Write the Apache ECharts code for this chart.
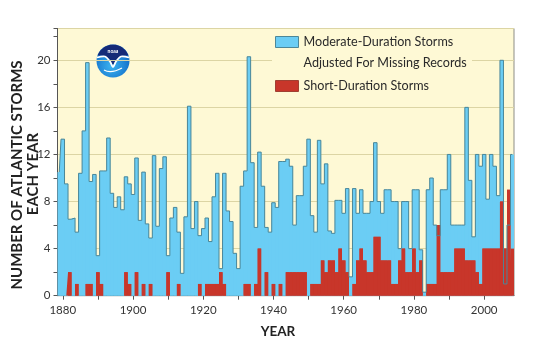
<!DOCTYPE html>
<html>
<head>
<meta charset="utf-8">
<script src="https://cdn.jsdelivr.net/npm/echarts/dist/echarts.min.js"></script>
<style>
html,body{margin:0;padding:0;background:#ffffff;}
#chart{width:536px;height:357px;}
</style>
</head>
<body>
<div id="chart"></div>
<script>
// ---- data ----
const years = [
  1879,1880,1881,1882,1883,1884,1885,1886,1887,1888,
  1889,1890,1891,1892,1893,1894,1895,1896,1897,1898,
  1899,1900,1901,1902,1903,1904,1905,1906,1907,1908,
  1909,1910,1911,1912,1913,1914,1915,1916,1917,1918,
  1919,1920,1921,1922,1923,1924,1925,1926,1927,1928,
  1929,1930,1931,1932,1933,1934,1935,1936,1937,1938,
  1939,1940,1941,1942,1943,1944,1945,1946,1947,1948,
  1949,1950,1951,1952,1953,1954,1955,1956,1957,1958,
  1959,1960,1961,1962,1963,1964,1965,1966,1967,1968,
  1969,1970,1971,1972,1973,1974,1975,1976,1977,1978,
  1979,1980,1981,1982,1983,1984,1985,1986,1987,1988,
  1989,1990,1991,1992,1993,1994,1995,1996,1997,1998,
  1999,2000,2001,2002,2003,2004,2005,2006,2007,2008
];
const moderateStorms = [
  10.5,13.3,9.5,6.5,6.6,5.4,10.4,14.0,19.8,9.7,
  10.3,3.4,10.6,10.6,13.4,8.7,7.5,8.4,7.3,10.1,
  9.5,8.6,11.7,6.4,10.5,6.1,4.9,11.9,5.9,10.8,
  11.8,3.4,6.6,7.5,5.4,1.9,6.7,16.1,5.7,8.0,
  5.1,5.7,6.6,4.6,8.4,10.4,2.3,10.4,7.2,6.3,
  3.6,2.3,9.3,10.6,20.3,11.3,5.8,12.2,9.3,5.8,
  5.4,7.9,7.5,11.4,11.4,11.6,11.0,6.0,8.5,8.5,
  11.0,13.3,6.8,5.4,13.2,9.5,11.2,5.5,5.3,8.1,
  8.1,7.0,9.1,1.6,9.1,7.0,9.0,7.0,7.0,8.0,
  13.0,8.0,7.0,9.0,9.0,8.0,8.0,4.0,8.0,8.0,
  4.0,9.0,9.0,3.9,0.3,9.0,10.0,6.0,5.1,9.0,
  9.0,12.0,6.0,6.0,6.0,6.0,16.0,9.8,5.0,12.0,
  11.0,12.0,8.2,12.0,11.0,8.5,20.0,1.0,6.0,12.0
];
const shortStorms = [
  0,0,0,2,0,1,0,0,1,1,
  0,2,1,0,0,0,0,0,0,2,
  1,0,2,0,1,0,1,0,0,0,
  0,2,0,0,1,0,0,0,0,0,
  1,0,1,1,1,1,2,1,0,0,
  0,0,0,1,1,0,1,4,0,2,
  0,1,0,1,0,2,2,2,2,2,
  2,0,1,1,1,3,2,3,3,2,
  4,3,2,0,1,3,4,3,2,2,
  5,5,3,3,3,1,1,3,4,2,
  2,4,2,3,0,1,1,1,6,2,
  2,2,2,4,4,4,3,3,3,2,
  1,4,4,4,4,4,8,4,9,4
];
const yTickLabels = [0, 4, 8, 12, 16, 20];
const xTickLabels = ['1880', '1900', '1920', '1940', '1960', '1980', '2000'];
const xMinorTicks = ['1890', '1910', '1930', '1950', '1970', '1990'];
const moderateName = 'Moderate-Duration Storms\nAdjusted For Missing Records';
const shortName = 'Short-Duration Storms';

// ---- style ----
const BG = '#fef9d5';
const BLUE = '#6bcdf4';
const BLUE_EDGE = '#4c8798';
const RED = '#c8362a';
const GRID_LINE = '#dcd5a4';
const FONT = 'Lato, "Open Sans", sans-serif';

const chart = echarts.init(document.getElementById('chart'), null, {renderer: 'canvas'});
const cats = years.map(String);

chart.setOption({
  animation: false,
  backgroundColor: '#ffffff',
  grid: {
    left: 57.5, right: 22, top: 28.5, bottom: 61.3,
    show: true, backgroundColor: BG, borderColor: '#8d8d86', borderWidth: 1,
    outerBoundsMode: 'none'
  },
  legend: {
    orient: 'vertical',
    left: 270, top: 5.5,
    padding: 5,
    itemGap: 2,
    itemWidth: 23,
    itemHeight: 11,
    selectedMode: false,
    formatter: function (name) { return name === moderateName ? '\n' + name : name; },
    textStyle: {fontFamily: FONT, fontSize: 12.6, color: '#2a2a2a', lineHeight: 21},
    data: [
      {name: moderateName, icon: 'rect',
       itemStyle: {color: BLUE, borderColor: BLUE_EDGE, borderWidth: 1}},
      {name: shortName, icon: 'rect',
       itemStyle: {color: RED, borderColor: '#8f2a1e', borderWidth: 0.8}}
    ]
  },
  xAxis: {
    type: 'category',
    data: cats,
    boundaryGap: true,
    axisLine: {show: true, lineStyle: {color: '#555', width: 1}},
    axisTick: {
      show: true, alignWithLabel: true, length: 4, inside: false,
      interval: function (i, v) { return xTickLabels.indexOf(v) >= 0 || xMinorTicks.indexOf(v) >= 0; },
      lineStyle: {color: '#555'}
    },
    axisLabel: {
      interval: function (i, v) { return xTickLabels.indexOf(v) >= 0; },
      fontFamily: FONT, fontSize: 11.5, color: '#333', margin: 9
    },
    splitLine: {show: false}
  },
  yAxis: [
    {
      type: 'value', min: 0, max: 22.7, interval: 2,
      axisLine: {show: true, lineStyle: {color: '#555', width: 1}},
      axisTick: {show: true, length: 4, lineStyle: {color: '#555'}},
      axisLabel: {
        fontFamily: FONT, fontSize: 11.5, color: '#333', margin: 7,
        formatter: function (v) { return yTickLabels.indexOf(v) >= 0 ? String(v) : ''; }
      },
      splitLine: {show: false}
    },
    {
      type: 'value', min: 0, max: 22.7, interval: 4, position: 'left',
      axisLine: {show: false}, axisTick: {show: false}, axisLabel: {show: false},
      splitLine: {show: true, lineStyle: {color: GRID_LINE, width: 1}}
    }
  ],
  series: [
    {
      name: 'moderateFill', type: 'line', step: 'middle', data: moderateStorms,
      symbol: 'none', lineStyle: {width: 0, opacity: 0},
      areaStyle: {color: BLUE, opacity: 1}, z: 2, silent: true
    },
    {
      name: moderateName, type: 'bar', data: moderateStorms,
      barCategoryGap: '0%', barGap: '-100%',
      itemStyle: {color: BLUE}, z: 3, silent: true
    },
    {
      name: 'shortFill', type: 'line', step: 'middle', data: shortStorms,
      symbol: 'none', lineStyle: {width: 0, opacity: 0},
      areaStyle: {color: RED, opacity: 1}, z: 4, silent: true
    },
    {
      name: shortName, type: 'bar', data: shortStorms,
      barCategoryGap: '0%', barGap: '-100%',
      itemStyle: {color: RED}, z: 5, silent: true
    },
    {
      name: 'moderateEdge', type: 'line', step: 'middle', data: moderateStorms,
      symbol: 'none', lineStyle: {color: BLUE_EDGE, width: 1},
      z: 6, silent: true
    }
  ],
  graphic: [
    // mask so the 20 gridline stops behind the legend
    {type: 'rect', x: 272, y: 55, shape: {x: 0, y: 0, width: 200, height: 10}, style: {fill: BG}, z: 1, silent: true},
    // axis titles
    {type: 'text', x: 17, y: 175, rotation: Math.PI / 2, silent: true, z: 10,
     style: {text: 'NUMBER OF ATLANTIC STORMS', font: 'bold 15px ' + FONT, fill: '#222', align: 'center', verticalAlign: 'middle'}},
    {type: 'text', x: 33, y: 174, rotation: Math.PI / 2, silent: true, z: 10,
     style: {text: 'EACH YEAR', font: 'bold 15px ' + FONT, fill: '#222', align: 'center', verticalAlign: 'middle'}},
    {type: 'text', x: 278, y: 332, silent: true, z: 10,
     style: {text: 'YEAR', font: 'bold 13.5px ' + FONT, fill: '#222', align: 'center', verticalAlign: 'middle'}},
    // NOAA logo
    {
      type: 'group', x: 113, y: 61, z: 10, silent: true,
      children: [
        {type: 'circle', shape: {cx: 0, cy: 0, r: 16.5},
         style: {fill: new echarts.graphic.RadialGradient(0.45, 0.65, 0.7, [
           {offset: 0, color: '#3cb3f0'}, {offset: 1, color: '#0a62c2'}])}},
        {type: 'polygon', shape: {points: [
           [-15.5, -5.64], [-12.64, -10.61], [-8.25, -14.29], [-2.87, -16.25],
           [2.87, -16.25], [8.25, -14.29], [12.64, -10.61], [15.5, -5.64],
           [8, -5], [4, -2], [0, 4], [-4, -2], [-8, -5]]},
         style: {fill: '#152a78'}},
        {type: 'polyline', shape: {points: [[-16, -3.5], [-8, -4.5], [-3, 0.5], [0, 6], [3, 0.5], [8, -4.5], [16, -3.5]], smooth: 0.3},
         style: {fill: null, stroke: '#ffffff', lineWidth: 1.8}},
        {type: 'bezierCurve', shape: {x1: -9, y1: 9, x2: 9, y2: 7, cpx1: -2, cpy1: 13},
         style: {fill: null, stroke: '#ffffff', lineWidth: 1.3}},
        {type: 'text', x: 0, y: -9.5,
         style: {text: 'noaa', font: 'bold 5px ' + FONT, fill: '#ffffff', align: 'center', verticalAlign: 'middle'}}
      ]
    }
  ]
});
</script>
</body>
</html>
